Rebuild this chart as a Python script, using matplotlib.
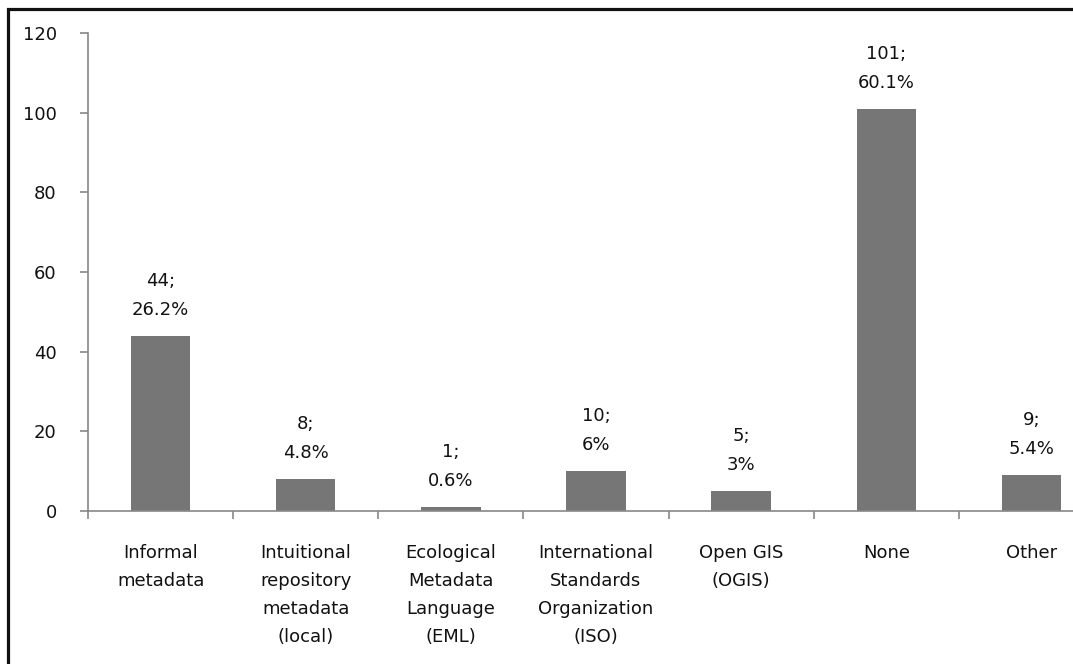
import numpy as np
import matplotlib.pyplot as plt
from matplotlib.patches import Rectangle

categories = ['Informal\nmetadata', 'Intuitional\nrepository\nmetadata\n(local)',
              'Ecological\nMetadata\nLanguage\n(EML)',
              'International\nStandards\nOrganization\n(ISO)',
              'Open GIS\n(OGIS)', 'None', 'Other']
counts = [44, 8, 1, 10, 5, 101, 9]
percents = ['26.2%', '4.8%', '0.6%', '6%', '3%', '60.1%', '5.4%']

plt.rcParams['font.family'] = ['DejaVu Sans']

fig = plt.figure(figsize=(10.73, 6.64), dpi=100)
# plot area runs past the right edge, like the cropped original
ax = fig.add_axes([88 / 1073, 1 - 511 / 664, (1104 - 88) / 1073, (511 - 33) / 664])

index = np.arange(len(counts))
bars = ax.bar(index, counts, 0.41, color='#767676')

for x, c, p in zip(index, counts, percents):
    ax.annotate('%d;\n%s' % (c, p), (x, c), xytext=(0, 12), textcoords='offset points',
                ha='center', va='bottom', fontsize=13, linespacing=1.8, color='#111111')

ax.set_xlim(-0.5, len(counts) - 0.5)
ax.set_ylim(0, 120)
ax.set_yticks(range(0, 121, 20))
ax.set_xticks(index)
ax.set_xticklabels(categories, fontsize=13, linespacing=1.7, va='top', color='#111111')
ax.set_xticks(np.arange(len(counts) + 1) - 0.5, minor=True)
ax.tick_params(axis='x', which='major', length=0, pad=24)
ax.tick_params(axis='x', which='minor', length=5.5, direction='out', color='#888888', width=1.2)
ax.tick_params(axis='y', length=5.5, direction='out', color='#888888', width=1.2,
               labelsize=13, pad=17, labelcolor='#111111')

for s in ['top', 'right']:
    ax.spines[s].set_visible(False)
for s in ['left', 'bottom']:
    ax.spines[s].set_color('#888888')
    ax.spines[s].set_linewidth(1.2)

fig.patches.append(Rectangle((8 / 1073, -0.1), 1.2, 1 - 9 / 664 + 0.1,
                             transform=fig.transFigure, fill=False,
                             edgecolor='#111111', linewidth=2.3))

fig.savefig('out.png', dpi=100)
